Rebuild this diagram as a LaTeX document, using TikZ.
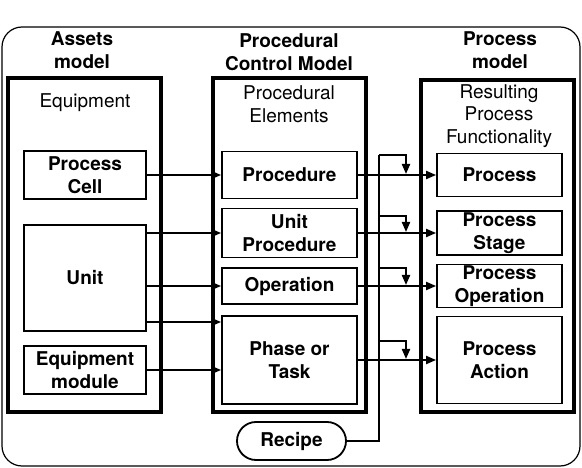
\documentclass[tikz,border=0pt]{standalone}
\usepackage{fontspec}
\setmainfont{TeX Gyre Heros}
\usetikzlibrary{arrows.meta}
\begin{document}
\begin{tikzpicture}[x=1pt,y=-1pt,
  every node/.style={font=\fontsize{19}{23}\selectfont, inner sep=0pt, align=center},
  bigbox/.style={draw, line width=3.6pt, minimum width=153pt, minimum height=334pt},
  innerbox/.style={draw, line width=1.8pt, font=\fontsize{19}{23}\selectfont\bfseries},
  ttl/.style={font=\fontsize{19}{23}\selectfont\bfseries},
  lbl/.style={font=\fontsize{19}{23}\selectfont},
  arr/.style={line width=2pt, -{Triangle[length=10pt,width=8pt]}},
  wire/.style={line width=2pt}]
\useasboundingbox (0,0) rectangle (582,468);
% outer frame
\draw[line width=1.2pt, rounded corners=20pt] (2,27) rectangle (580,466);
% titles
\node[ttl] (t1) at (82,50) {Assets\\model};
\node[ttl] (t2) at (289,52) {Procedural\\Control Model};
\node[ttl] (t3) at (500,50) {Process\\model};
% big boxes
\node[bigbox] (L) at (84.5,245) {};
\node[bigbox] (M) at (289.5,245) {};
\node[bigbox, minimum height=332pt] (R) at (497.5,246) {};
\node[lbl] (lt) at (85,103) {Equipment};
\node[lbl] (mt) at (289,104) {Procedural\\Elements};
\node[lbl, font=\fontsize{19}{22.5}\selectfont] (rt) at (499,116) {Resulting\\Process\\Functionality};
% left inner
\node[innerbox, minimum width=122pt, minimum height=48pt] (pc) at (85,175) {Process\\Cell};
\node[innerbox, minimum width=122pt, minimum height=106pt] (unit) at (85,278) {Unit};
\node[innerbox, minimum width=122pt, minimum height=48pt] (eqm) at (85,370) {Equipment\\module};
% middle inner
\node[innerbox, minimum width=135pt, minimum height=47pt] (proc) at (289.5,175) {Procedure};
\node[innerbox, minimum width=135pt, minimum height=49pt] (uproc) at (289.5,233) {Unit\\Procedure};
\node[innerbox, minimum width=135pt, minimum height=36pt] (op) at (289.5,286) {Operation};
\node[innerbox, minimum width=135pt, minimum height=88pt] (phase) at (289.5,360) {Phase or\\Task};
% right inner
\node[innerbox, minimum width=125pt, minimum height=43pt] (pr) at (499.5,175) {Process};
\node[innerbox, minimum width=125pt, minimum height=44pt] (ps) at (499.5,233) {Process\\Stage};
\node[innerbox, minimum width=125pt, minimum height=43pt] (po) at (499.5,286) {Process\\Operation};
\node[innerbox, minimum width=125pt, minimum height=87pt] (pa) at (499.5,360) {Process\\Action};
% recipe
\node[innerbox, minimum width=109pt, minimum height=38pt, rounded corners=19pt] (rec) at (291.5,441) {Recipe};
% left -> middle arrows
\draw[arr] (pc.east |- proc.west) -- (proc.west);
\draw[arr] (unit.east |- uproc.west) -- (uproc.west);
\draw[arr] (unit.east |- op.west) -- (op.west);
\coordinate (u3) at (146,322);
\draw[arr] (u3) -- (u3 -| phase.west);
\draw[arr] (eqm.east) -- (eqm.east -| phase.west);
% middle -> right arrows
\draw[arr] (proc.east) -- (proc.east -| pr.west);
\draw[arr] (uproc.east) -- (uproc.east -| ps.west);
\draw[arr] (op.east) -- (op.east -| po.west);
\draw[arr] (phase.east) -- (phase.east -| pa.west);
% recipe line and branches
\coordinate (rtop) at (379,155);
\draw[wire] (rec.east) -| (rtop);
\coordinate (b1) at (379,155); \coordinate (e1) at (406,174);
\coordinate (b2) at (379,216); \coordinate (e2) at (406,232);
\coordinate (b3) at (379,268); \coordinate (e3) at (406,285);
\coordinate (b4) at (379,341); \coordinate (e4) at (406,359);
\foreach \i in {1,2,3,4} {\draw[arr] (b\i) -| (e\i);}
\end{tikzpicture}
\end{document}
